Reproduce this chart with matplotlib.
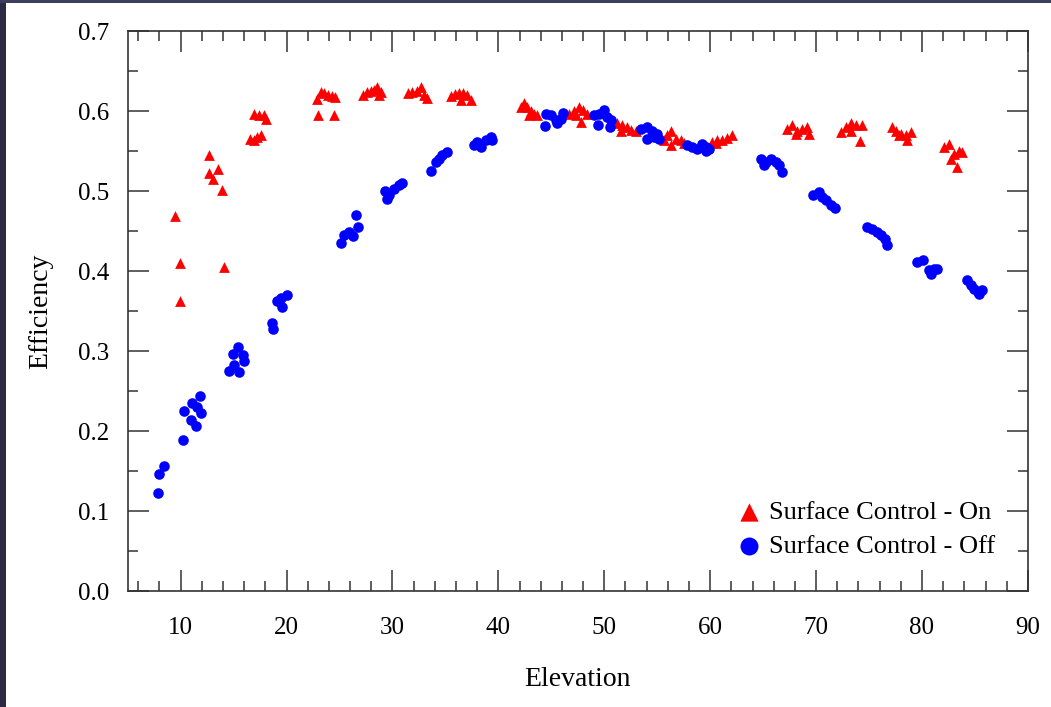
import matplotlib
matplotlib.use("Agg")
import matplotlib.pyplot as plt
from matplotlib.patches import Rectangle
from matplotlib.ticker import MultipleLocator
import numpy as np

# surface control on (red triangles)
elev_on = [9.43, 9.97, 9.97, 12.67, 12.67, 13.09, 13.53, 13.94, 14.06,
           16.54, 16.92, 17.24, 17.55, 16.92, 17.39, 17.87, 18.09,
           22.84, 23.22, 23.53, 23.91, 24.32, 24.57, 23.0, 24.48,
           27.25, 27.63, 27.94, 28.25, 28.58, 28.89, 28.73,
           31.46, 31.88, 32.29, 32.66, 32.97, 33.3,
           35.5, 35.87, 36.28, 36.70, 37.07, 37.39, 36.43,
           42.1, 42.42, 42.73, 43.05, 43.37, 43.68, 42.89,
           46.67, 47.14, 47.61, 48.03, 48.34, 47.77, 47.30,
           51.24, 51.71, 52.18, 52.56, 52.97, 51.55,
           55.64, 55.96, 56.34, 56.74, 57.22, 57.53, 56.27,
           60.21, 60.68, 61.15, 61.63, 62.10, 60.52,
           67.29, 67.76, 68.23, 68.71, 69.11, 69.33, 68.11,
           72.32, 72.79, 73.26, 73.74, 74.37, 73.26, 74.15,
           77.2, 77.51, 77.99, 78.46, 78.93, 78.62, 77.83,
           82.08, 82.55, 83.02, 83.49, 83.81, 82.71, 83.27]
eff_on = [0.469, 0.410, 0.3625, 0.546, 0.523, 0.515, 0.5275, 0.502, 0.405,
          0.566, 0.564, 0.568, 0.571, 0.597, 0.595, 0.595, 0.590,
          0.615, 0.624, 0.623, 0.621, 0.619, 0.618, 0.596, 0.596,
          0.620, 0.624, 0.626, 0.627, 0.630, 0.624, 0.621,
          0.623, 0.624, 0.626, 0.630, 0.620, 0.617,
          0.619, 0.622, 0.623, 0.623, 0.620, 0.614, 0.614,
          0.605, 0.610, 0.606, 0.601, 0.597, 0.595, 0.595,
          0.597, 0.601, 0.605, 0.602, 0.597, 0.587, 0.595,
          0.585, 0.5825, 0.580, 0.577, 0.576, 0.576,
          0.564, 0.570, 0.575, 0.566, 0.564, 0.560, 0.5575,
          0.562, 0.5646, 0.564, 0.567, 0.570, 0.560,
          0.578, 0.5825, 0.576, 0.578, 0.580, 0.572, 0.572,
          0.574, 0.580, 0.585, 0.5825, 0.5825, 0.576, 0.563,
          0.580, 0.576, 0.572, 0.570, 0.574, 0.564, 0.570,
          0.5554, 0.5596, 0.547, 0.5504, 0.549, 0.541, 0.531]

# surface control off (blue circles)
elev_off = [7.86, 7.99, 8.42, 10.22, 10.31, 11.01, 11.42, 11.10, 11.58, 11.89, 11.79,
            14.56, 15.03, 15.51, 14.94, 15.45, 15.88, 15.98,
            18.59, 18.75, 19.13, 19.60, 19.44, 20.08,
            25.11, 25.42, 25.89, 26.31, 26.59, 26.78,
            29.26, 29.67, 30.14, 30.61, 30.93, 29.52,
            33.6, 34.08, 34.39, 34.71, 35.12,
            37.7, 38.02, 38.33, 38.8, 39.27, 39.43,
            44.47, 44.94, 45.41, 45.88, 46.1, 44.4, 45.57,
            49.03, 49.5, 49.97, 50.29, 50.6, 49.4, 50.54,
            53.44, 54.07, 54.55, 55.02, 55.17, 54.07, 54.69,
            57.85, 58.32, 58.79, 59.26, 59.58, 59.89, 59.58,
            64.83, 65.24, 65.71, 66.18, 66.5, 66.82, 65.08,
            69.75, 70.28, 70.6, 70.91, 71.38, 71.76,
            74.78, 75.32, 75.79, 76.1, 76.48, 76.73,
            79.56, 80.13, 80.66, 81.13, 81.46, 80.82,
            84.22, 84.6, 84.91, 85.29, 85.71, 85.39]
eff_off = [0.123, 0.146, 0.157, 0.189, 0.225, 0.214, 0.207, 0.235, 0.230, 0.223, 0.244,
           0.275, 0.2825, 0.274, 0.296, 0.305, 0.295, 0.2875,
           0.335, 0.328, 0.363, 0.355, 0.366, 0.370,
           0.435, 0.445, 0.449, 0.444, 0.470, 0.455,
           0.501, 0.495, 0.503, 0.5075, 0.511, 0.491,
           0.5254, 0.537, 0.541, 0.545, 0.549,
           0.5575, 0.5617, 0.5554, 0.564, 0.568, 0.564,
           0.597, 0.595, 0.589, 0.591, 0.598, 0.582, 0.585,
           0.595, 0.597, 0.602, 0.593, 0.589, 0.5825, 0.581,
           0.578, 0.580, 0.576, 0.572, 0.566, 0.566, 0.568,
           0.5575, 0.5554, 0.5533, 0.5596, 0.5554, 0.5533, 0.550,
           0.541, 0.537, 0.540, 0.537, 0.5325, 0.524, 0.5325,
           0.495, 0.499, 0.493, 0.489, 0.4825, 0.4796,
           0.4554, 0.4534, 0.449, 0.445, 0.441, 0.4325,
           0.4116, 0.4137, 0.401, 0.403, 0.403, 0.397,
           0.389, 0.3825, 0.378, 0.374, 0.376, 0.372]

plt.rcParams['font.family'] = ['Liberation Serif', 'DejaVu Serif']

fig = plt.figure(figsize=(10.51, 7.07), dpi=100)
fig.patch.set_facecolor('white')
# dark frame at the left and top edges
fig.patches.append(Rectangle((0, 0), 6 / 1051, 1, transform=fig.transFigure,
                             facecolor='#2a2a44', edgecolor='none'))
fig.patches.append(Rectangle((0, 1 - 3 / 707), 1, 3 / 707, transform=fig.transFigure,
                             facecolor='#3d3d60', edgecolor='none'))

ax = fig.add_axes([0.1215, 0.164, 0.8565, 0.7915])
ax.scatter(elev_on, eff_on, marker='^', s=60, color='#ff0000', linewidths=0,
           label='Surface Control - On', zorder=3)
ax.scatter(elev_off, eff_off, marker='o', s=58, color='#0000ff', linewidths=0,
           label='Surface Control - Off', zorder=4)

ax.set_xlim(5, 90)
ax.set_ylim(0, 0.7)
ax.xaxis.set_major_locator(MultipleLocator(10))
ax.xaxis.set_minor_locator(MultipleLocator(2))
ax.yaxis.set_major_locator(MultipleLocator(0.1))
ax.yaxis.set_minor_locator(MultipleLocator(0.05))
ax.yaxis.set_major_formatter(matplotlib.ticker.FormatStrFormatter('%.1f'))

ax.tick_params(which='both', direction='in', top=True, right=True, color='#333333', width=1.1)
ax.tick_params(which='major', length=15, labelsize=18)
ax.tick_params(axis='x', which='major', pad=19)
ax.tick_params(axis='y', which='major', pad=13)
ax.tick_params(which='minor', length=7.5)
for sp in ax.spines.values():
    sp.set_color('#333333')
    sp.set_linewidth(1.2)

ax.set_xlabel('Elevation', fontsize=20, labelpad=20)
ax.set_ylabel('Efficiency', fontsize=20, labelpad=18)

ax.legend(loc='lower right', bbox_to_anchor=(0.975, 0.04), frameon=False,
          fontsize=19, markerscale=1.7, handletextpad=0.15, labelspacing=0.4,
          borderaxespad=0, handlelength=1.2)

fig.savefig('out.png', dpi=100, facecolor=fig.get_facecolor())
